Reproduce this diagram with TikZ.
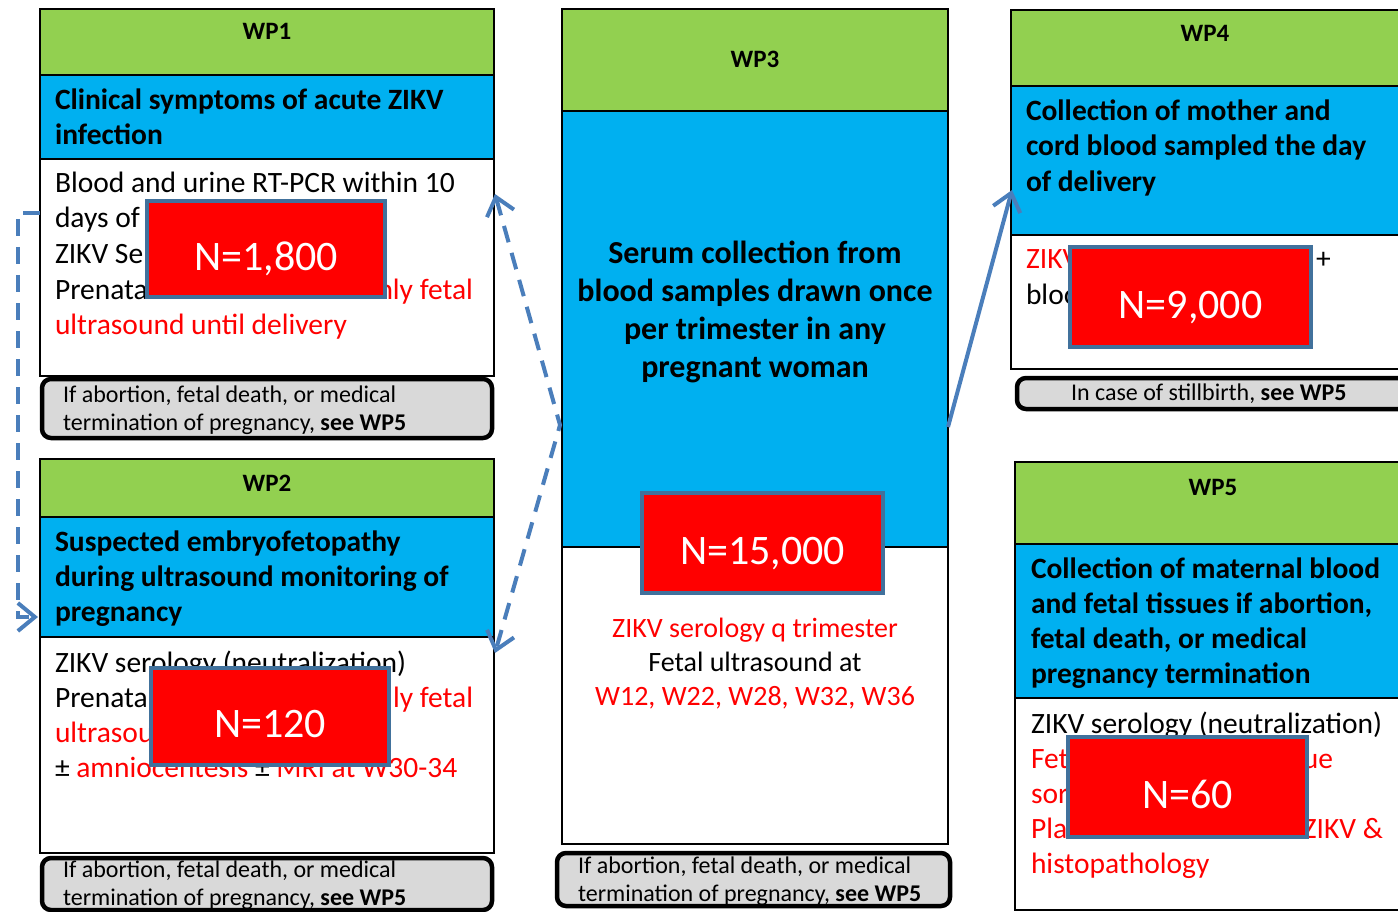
\documentclass[tikz,border=0pt]{standalone}
\usepackage{xcolor}
\usepackage{fontspec}
\setmainfont{Carlito}
\usepackage{tikz}
\usetikzlibrary{arrows.meta, positioning}

\begin{document}
\begin{tikzpicture}[x=1pt, y=-1pt, every node/.style={inner sep=0pt, outer sep=0pt},
    band/.style={draw=black, line width=1.8pt, anchor=north west},
    note/.style={draw=black, line width=4.5pt, fill=notegrey, rounded corners=9pt, anchor=north west},
    count/.style={draw=nborder, line width=4pt, fill=zred, text=white, anchor=north west, text height=42pt, text depth=0pt, font=\fontsize{42}{48}\selectfont},
    wplabel/.style={anchor=base, font=\fontsize{25}{30}\selectfont\bfseries},
    head/.style={anchor=base west, font=\fontsize{29.5}{35}\selectfont\bfseries},
    body/.style={anchor=base west, font=\fontsize{29.5}{35}\selectfont},
    notetxt/.style={anchor=base west, font=\fontsize{24}{28}\selectfont},
    dasharrow/.style={draw=arrowblue, line width=4pt, dash pattern=on 17pt off 11pt},
    barb/.tip={Straight Barb[length=17pt, width=28pt]},
    linkarrow/.style={draw=arrowblue, line width=4pt, -barb}]
      \definecolor{wpgreen}{HTML}{92D050} \definecolor{wpblue}{HTML}{00B0F0}
      \definecolor{zred}{HTML}{FF0000} \definecolor{nborder}{HTML}{41719C}
      \definecolor{notegrey}{HTML}{D9D9D9} \definecolor{arrowblue}{HTML}{4A7EBB}
      \useasboundingbox (0,0) rectangle (1398,912);

      % WP1
      \node[band, fill=wpgreen, minimum width=454pt, minimum height=66pt] (wp1top) at (40,9) {};
      \node[band, fill=wpblue, minimum width=454pt, minimum height=84pt] (wp1mid) at (40,75) {};
      \node[band, fill=white, minimum width=454pt, minimum height=217pt] (wp1low) at (40,159) {};
      \node[note, minimum width=450pt, minimum height=59pt] (wp1note) at (42,379) {};
      \node[wplabel] (wp1name) at (267,40) {WP1};
      \foreach \ln [count=\i from 0] in {Clinical symptoms of acute ZIKV, infection}
        \node[head] (wp1h\i) at (55,110+35*\i) {\ln};
      \node[body] (wp1b0) at (55,193) {Blood and urine RT-PCR within 10};
      \node[body] (wp1b1) at (55,228) {days of};
      \node[body] (wp1b2) at (55,264) {ZIKV Se};
      \node[body] (wp1b3) at (55,299) {Prenata};
      \node[body, anchor=base east, text=zred] (wp1b4) at (473,299) {nly fetal};
      \node[body, text=zred] (wp1b5) at (55,334) {ultrasound until delivery};
      \node[count, minimum width=238pt, minimum height=96pt] (wp1n) at (147,201) {N=1,800};
      \node[notetxt] (wp1t0) at (63,402) {If abortion, fetal death, or medical};
      \node[notetxt] (wp1t1) at (63,430) {termination of pregnancy, \textbf{see WP5}};

      % WP2
      \node[band, fill=wpgreen, minimum width=454pt, minimum height=58pt] (wp2top) at (40,459) {};
      \node[band, fill=wpblue, minimum width=454pt, minimum height=120pt] (wp2mid) at (40,517) {};
      \node[band, fill=white, minimum width=454pt, minimum height=216pt] (wp2low) at (40,637) {};
      \node[note, minimum width=450pt, minimum height=52pt] (wp2note) at (42,858) {};
      \node[wplabel] (wp2name) at (267,491) {WP2};
      \foreach \ln [count=\i from 0] in {Suspected embryofetopathy, during ultrasound monitoring of, pregnancy}
        \node[head] (wp2h\i) at (55,551+35*\i) {\ln};
      \node[body] (wp2b0) at (55,672) {ZIKV serology (neutralization)};
      \node[body] (wp2b1) at (55,707) {Prenata};
      \node[body, anchor=base east, text=zred] (wp2b2) at (473,707) {ly fetal};
      \node[body, text=zred] (wp2b3) at (55,742) {ultrasound};
      \node[body] (wp2b4) at (55,777) {± \textcolor{zred}{amniocentesis} ± \textcolor{zred}{MRI at W30-34}};
      \node[count, minimum width=238pt, minimum height=97pt] (wp2n) at (151,668) {N=120};
      \node[notetxt] (wp2t0) at (63,877) {If abortion, fetal death, or medical};
      \node[notetxt] (wp2t1) at (63,905) {termination of pregnancy, \textbf{see WP5}};

      % WP3
      \node[band, fill=wpgreen, minimum width=386pt, minimum height=102pt] (wp3top) at (562,9) {};
      \node[band, fill=wpblue, minimum width=386pt, minimum height=436pt] (wp3mid) at (562,111) {};
      \node[band, fill=white, minimum width=386pt, minimum height=297pt] (wp3low) at (562,547) {};
      \node[note, minimum width=393pt, minimum height=53pt] (wp3note) at (557,853) {};
      \node[wplabel] (wp3name) at (755,68) {WP3};
      \foreach \ln [count=\i from 0] in {Serum collection from, blood samples drawn once, per trimester in any, pregnant woman}
        \node[head, anchor=base, font=\fontsize{32}{38}\selectfont\bfseries] (wp3h\i) at (755,263+38.3*\i) {\ln};
      \node[count, minimum width=241pt, minimum height=100pt] (wp3n) at (642,493) {N=15,000};
      \node[body, anchor=base, text=zred, font=\fontsize{28}{35}\selectfont] (wp3b0) at (755,637) {ZIKV serology q trimester};
      \node[body, anchor=base, font=\fontsize{28}{35}\selectfont] (wp3b1) at (755,671) {Fetal ultrasound at};
      \node[body, anchor=base, text=zred, font=\fontsize{28}{35}\selectfont] (wp3b2) at (755,705) {W12, W22, W28, W32, W36};
      \node[notetxt] (wp3t0) at (578,873) {If abortion, fetal death, or medical};
      \node[notetxt] (wp3t1) at (578,901) {termination of pregnancy, \textbf{see WP5}};

      % WP4
      \node[band, fill=wpgreen, minimum width=420pt, minimum height=76pt] (wp4top) at (1011,10) {};
      \node[band, fill=wpblue, minimum width=420pt, minimum height=149pt] (wp4mid) at (1011,86) {};
      \node[band, fill=white, minimum width=420pt, minimum height=134pt] (wp4low) at (1011,235) {};
      \node[note, minimum width=420pt, minimum height=31pt] (wp4note) at (1017,378) {};
      \node[wplabel] (wp4name) at (1205,42) {WP4};
      \foreach \ln [count=\i from 0] in {Collection of mother and, cord blood sampled the day, of delivery}
        \node[head] (wp4h\i) at (1026,120.5+35.3*\i) {\ln};
      \node[body, text=zred] (wp4b0) at (1026,269) {ZIKV};
      \node[body] (wp4b1) at (1316,269) {+};
      \node[body] (wp4b2) at (1026,305) {blood};
      \node[count, minimum width=241pt, minimum height=100pt] (wp4n) at (1070,247) {N=9,000};
      \node[notetxt] (wp4t0) at (1071,400) {In case of stillbirth, \textbf{see WP5}};

      % WP5
      \node[band, fill=wpgreen, minimum width=420pt, minimum height=82pt] (wp5top) at (1015,462) {};
      \node[band, fill=wpblue, minimum width=420pt, minimum height=154pt] (wp5mid) at (1015,544) {};
      \node[band, fill=white, minimum width=420pt, minimum height=212pt] (wp5low) at (1015,698) {};
      \node[wplabel] (wp5name) at (1213,495) {WP5};
      \foreach \ln [count=\i from 0] in {Collection of maternal blood, {and fetal tissues if abortion,}, {fetal death, or medical}, pregnancy termination}
        \node[head] (wp5h\i) at (1031,578+35.3*\i) {\ln};
      \node[body] (wp5b0) at (1031,733) {ZIKV serology (neutralization)};
      \node[body, text=zred] (wp5b1) at (1031,768) {Fet};
      \node[body, anchor=base east, text=zred] (wp5b2) at (1333,768) {ue};
      \node[body, text=zred] (wp5b3) at (1031,803) {sor};
      \node[body, text=zred] (wp5b4) at (1031,838) {Pla};
      \node[body, anchor=base east, text=zred] (wp5b5) at (1383,838) {ZIKV \&};
      \node[body, text=zred] (wp5b6) at (1031,873) {histopathology};
      \node[count, minimum width=239pt, minimum height=100pt] (wp5n) at (1068,737) {N=60};

      % links
      \coordinate (wp1out) at (40,213);
      \coordinate (leftrail) at (18,400);
      \coordinate (wp2in) at (38,617);
      \coordinate (wp1back) at (495,194);
      \coordinate (wp3side) at (560,425);
      \coordinate (wp2back) at (495,653);
      \coordinate (wp3out) at (948,427);
      \coordinate (wp4in) at (1012,190);
      \draw[dasharrow, -barb] (wp1out) -| (leftrail) |- (wp2in);
      \draw[dasharrow, barb-barb] (wp1back) -- (wp3side) -- (wp2back);
      \draw[linkarrow] (wp3out) -- (wp4in);
    \end{tikzpicture}
\end{document}
